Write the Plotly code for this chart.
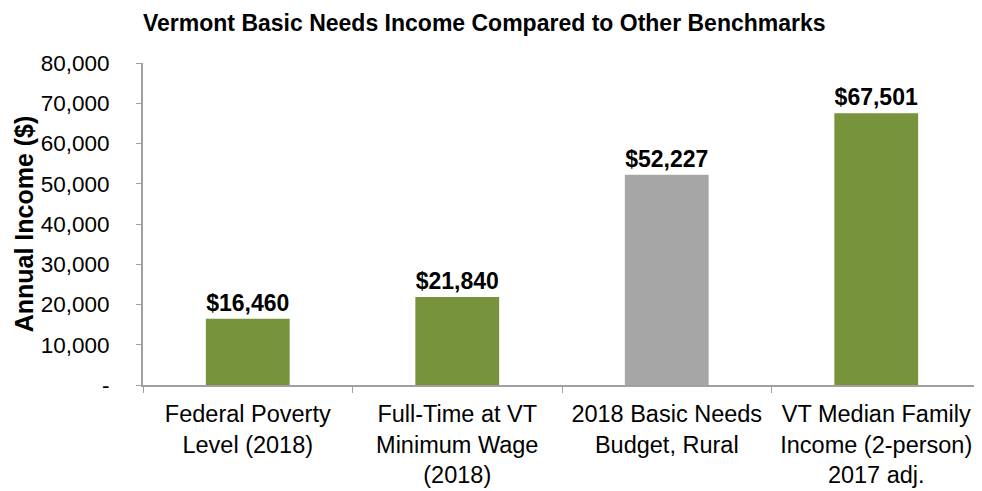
import plotly.graph_objects as go

categories = [
    "Federal Poverty<br>Level (2018)",
    "Full-Time at VT<br>Minimum Wage<br>(2018)",
    "2018 Basic Needs<br>Budget, Rural",
    "VT Median Family<br>Income (2-person)<br>2017 adj.",
]
income = [16460, 21840, 52227, 67501]
bar_colors = ["#77933C", "#77933C", "#A6A6A6", "#77933C"]

y_ticks = [0, 10000, 20000, 30000, 40000, 50000, 60000, 70000, 80000]
y_tick_text = ["-", "10,000", "20,000", "30,000", "40,000", "50,000", "60,000", "70,000", "80,000"]

font = "Liberation Sans, Arial, sans-serif"

fig = go.Figure()
fig.add_trace(go.Bar(
    x=categories,
    y=income,
    marker=dict(color=bar_colors, line=dict(width=0)),
    text=[f"${v:,}" for v in income],
    textposition="outside",
    cliponaxis=False,
    textfont=dict(family=font, size=23, color="black", weight="bold"),
))

# page body has an 8px margin, so the figure is a bit smaller than the window
fig.update_layout(
    width=974,
    height=483,
    margin=dict(l=135, r=1, t=55, b=106),
    paper_bgcolor="white",
    plot_bgcolor="white",
    showlegend=False,
    bargap=0.6,
    font=dict(family=font, color="black"),
    title=dict(
        text="<b>Vermont Basic Needs Income Compared to Other Benchmarks</b>",
        font=dict(family=font, size=23, color="black"),
        x=0.489, xanchor="center",
        y=0.970, yanchor="middle",
    ),
    yaxis=dict(
        range=[0, 80000],
        tickvals=y_ticks,
        ticktext=y_tick_text,
        ticks="outside",
        ticklen=5,
        tickcolor="#A0A0A0",
        showline=True,
        linecolor="#A0A0A0",
        linewidth=2,
        showgrid=False,
        zeroline=False,
        automargin=False,
        tickfont=dict(family=font, size=22.5, color="black"),
        ticklabelstandoff=22,
        title=dict(
            text="<b>Annual Income ($)</b>",
            font=dict(family=font, size=25, color="black"),
            standoff=0,
        ),
    ),
    xaxis=dict(
        showline=True,
        linecolor="#A0A0A0",
        linewidth=2,
        ticks="outside",
        tickson="boundaries",
        ticklen=6,
        tickcolor="#A0A0A0",
        showgrid=False,
        automargin=False,
        tickfont=dict(family=font, size=23.5, color="black"),
        ticklabelstandoff=7,
    ),
)

fig.write_html("out.html")
